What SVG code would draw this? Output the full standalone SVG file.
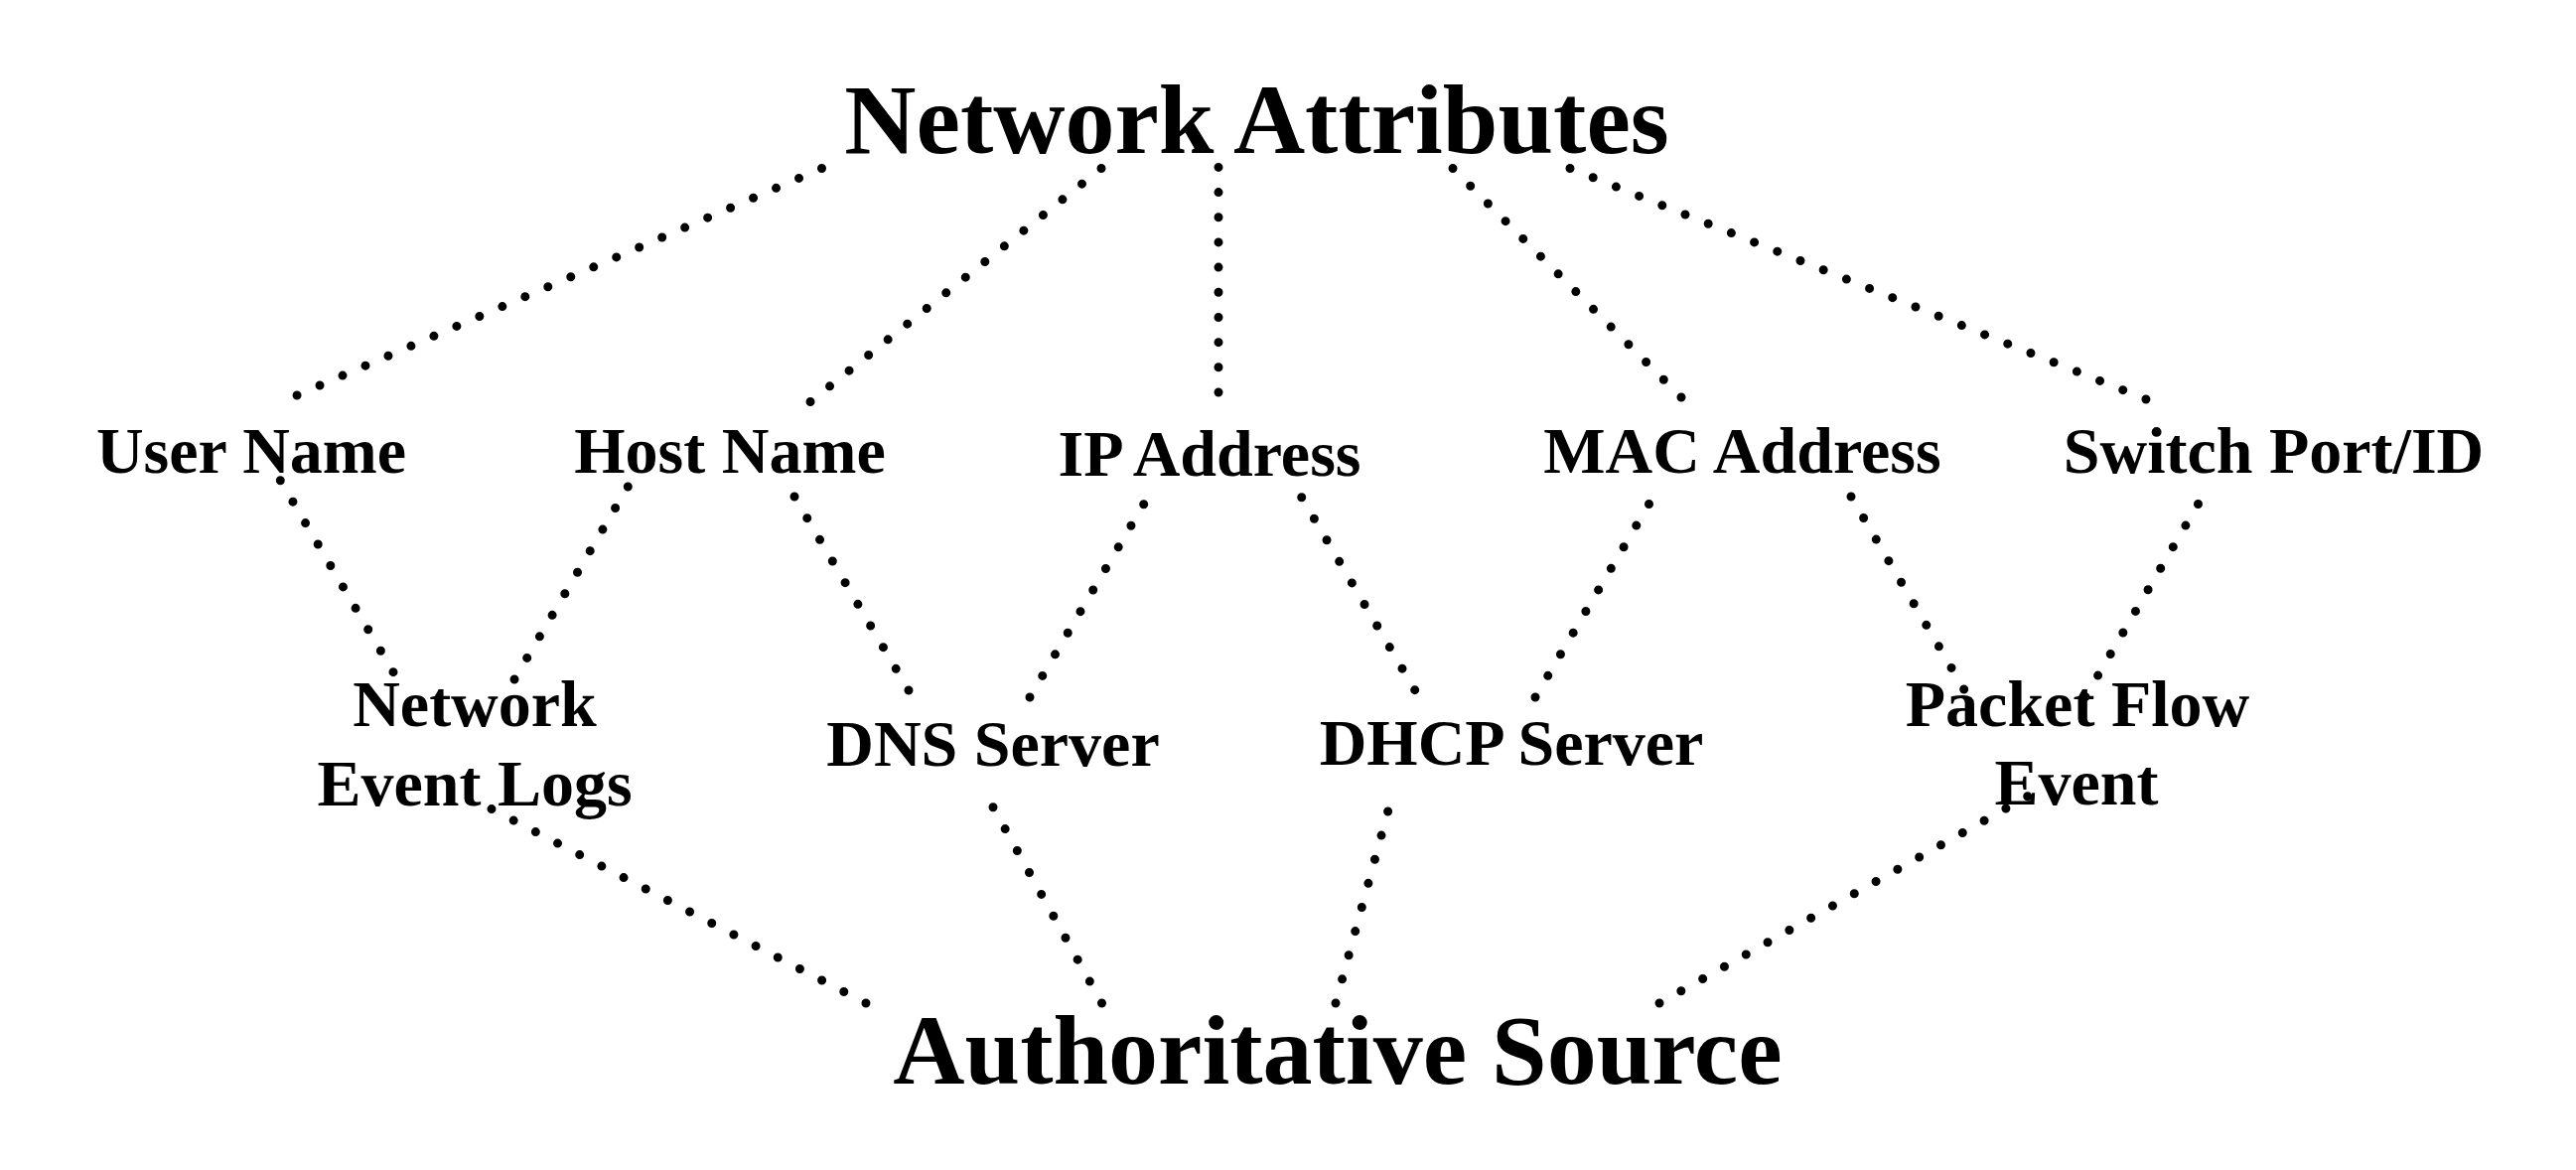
<svg xmlns="http://www.w3.org/2000/svg" width="2594" height="1178" viewBox="0 0 2594 1178">
<style>
  text { font-family: "Liberation Serif", "Times New Roman", serif; font-weight: bold; fill: #000; text-anchor: middle; }
  .big { font-size: 100px; }
  .lbl { font-size: 66px; }
  .dot { fill: none; stroke: #000; stroke-width: 9; stroke-linecap: round; stroke-dasharray: 0 0.9999; }
</style>
<rect x="0" y="0" width="2594" height="1178" fill="#fff"/>
<g id="connectors">
  <path class="dot" d="M827.5,169.5 L299,398" pathLength="23"/>
  <path class="dot" d="M1109,169.5 L816,404.5" pathLength="15"/>
  <path class="dot" d="M1227,168.4 L1227,395" pathLength="9"/>
  <path class="dot" d="M1463,169.5 L1693,400" pathLength="13"/>
  <path class="dot" d="M1581,169.5 L2161,402" pathLength="25"/>
  <path class="dot" d="M282.3,483.7 L396,676.7" pathLength="9"/>
  <path class="dot" d="M632.3,490 L518,684" pathLength="9"/>
  <path class="dot" d="M800,500 L915,695" pathLength="9"/>
  <path class="dot" d="M1151.7,507.7 L1037,702" pathLength="9"/>
  <path class="dot" d="M1310.7,500.7 L1424.7,694.7" pathLength="9"/>
  <path class="dot" d="M1660.5,507.5 L1546,702" pathLength="9"/>
  <path class="dot" d="M1864,500 L1977.7,694" pathLength="9"/>
  <path class="dot" d="M2213.5,507.5 L2100,701.7" pathLength="9"/>
  <path class="dot" d="M495,814.6 L872,1010" pathLength="17"/>
  <path class="dot" d="M1000,812.7 L1109.5,1010" pathLength="9"/>
  <path class="dot" d="M1397.6,817 L1345,1010" pathLength="8"/>
  <path class="dot" d="M2041.7,801.7 L1671,1010" pathLength="17"/>
</g>
<g id="network-attributes"><text class="big" x="1265.5" y="154">Network Attributes</text></g>
<g id="user-name"><text class="lbl" x="253" y="476">User Name</text></g>
<g id="host-name"><text class="lbl" x="735" y="476">Host Name</text></g>
<g id="ip-address"><text class="lbl" x="1218" y="479">IP Address</text></g>
<g id="mac-address"><text class="lbl" x="1754.5" y="476">MAC Address</text></g>
<g id="switch-port"><text class="lbl" x="2289.5" y="476">Switch Port/ID</text></g>
<g id="network-event-logs"><text class="lbl" x="478" y="731">Network</text><text class="lbl" x="478" y="811">Event Logs</text></g>
<g id="dns-server"><text class="lbl" x="1000" y="771">DNS Server</text></g>
<g id="dhcp-server"><text class="lbl" x="1522" y="770">DHCP Server</text></g>
<g id="packet-flow-event"><text class="lbl" x="2092" y="731">Packet Flow</text><text class="lbl" x="2091" y="810">Event</text></g>
<g id="authoritative-source"><text class="big" x="1347" y="1091">Authoritative Source</text></g>
</svg>
